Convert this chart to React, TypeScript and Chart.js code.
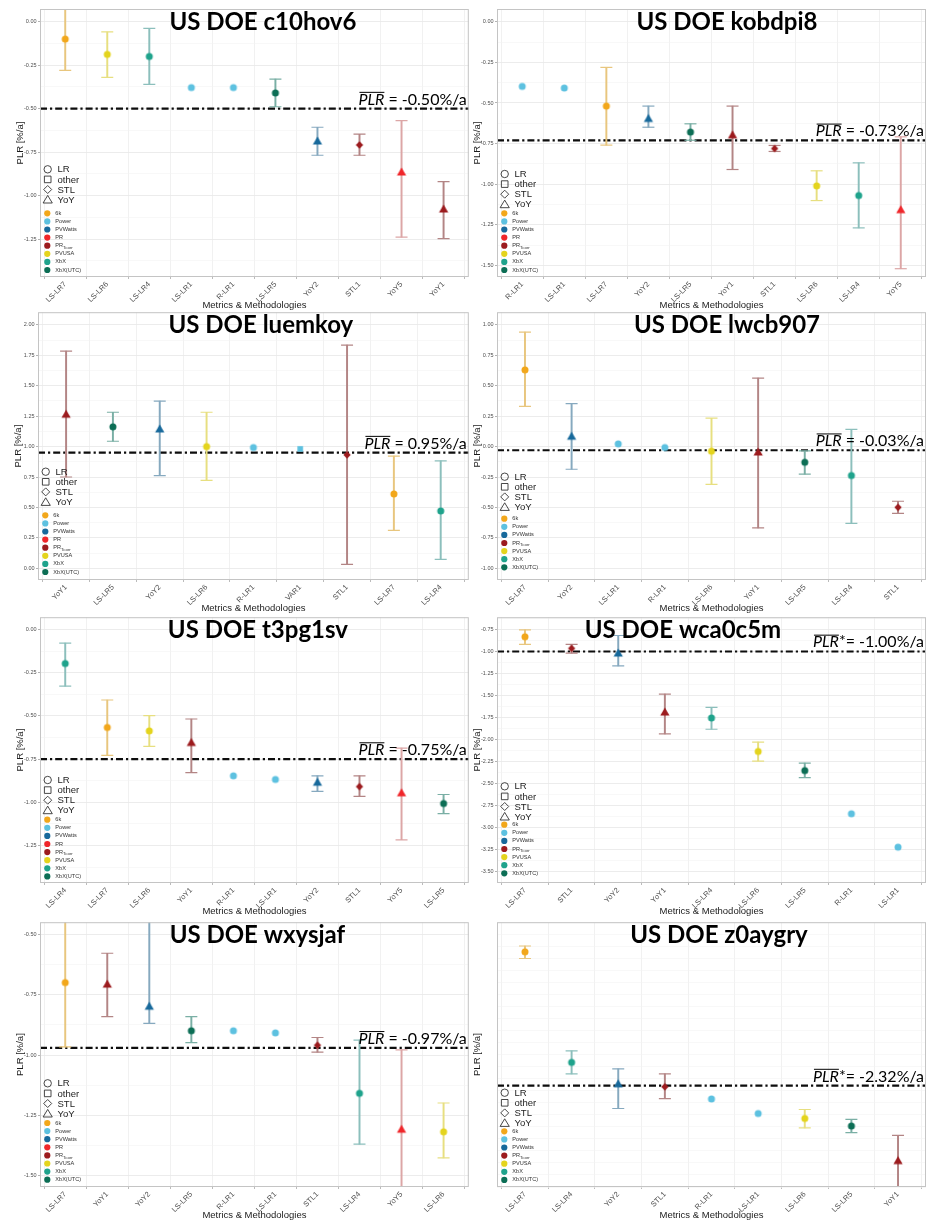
import React, { useEffect, useRef } from "react";
import { Chart, registerables } from "chart.js";

Chart.register(...registerables);
Chart.defaults.font.family = "'Liberation Sans', Arial, sans-serif";

// ---------------- data ----------------
const c10hov6Labels = ["LS-LR7", "LS-LR6", "LS-LR4", "LS-LR1", "R-LR1", "LS-LR5", "YoY2", "STL1", "YoY5", "YoY1"];
const c10hov6Values = [-0.10, -0.188, -0.20, -0.379, -0.379, -0.41, -0.686, -0.709, -0.864, -1.077];
const c10hov6Low = [-0.28, -0.32, -0.36, null, null, -0.489, -0.768, -0.768, -1.239, -1.247];
const c10hov6High = [0.08, -0.059, -0.038, null, null, -0.33, -0.607, -0.647, -0.569, -0.92];
const c10hov6Mean = -0.5;
const c10hov6Range = [-1.468, 0.073];

const kobdpi8Labels = ["R-LR1", "LS-LR1", "LS-LR7", "YoY2", "LS-LR5", "YoY1", "STL1", "LS-LR6", "LS-LR4", "YoY5"];
const kobdpi8Values = [-0.398, -0.408, -0.519, -0.595, -0.679, -0.696, -0.78, -1.01, -1.069, -1.156];
const kobdpi8Low = [null, null, -0.759, -0.649, -0.729, -0.909, -0.798, -1.10, -1.268, -1.519];
const kobdpi8High = [null, null, -0.281, -0.519, -0.628, -0.519, -0.761, -0.917, -0.868, -0.708];
const kobdpi8Mean = -0.73;
const kobdpi8Range = [-1.57, 0.078];

const luemkoyLabels = ["YoY1", "LS-LR5", "YoY2", "LS-LR6", "R-LR1", "VAR1", "STL1", "LS-LR7", "LS-LR4"];
const luemkoyValues = [1.266, 1.162, 1.145, 1.0, 0.992, 0.981, 0.932, 0.611, 0.471];
const luemkoyLow = [0.75, 1.044, 0.762, 0.723, null, null, 0.033, 0.312, 0.074];
const luemkoyHigh = [1.784, 1.282, 1.373, 1.282, null, null, 1.833, 0.921, 0.882];
const luemkoyMean = 0.95;
const luemkoyRange = [-0.096, 2.104];

const lwcb907Labels = ["LS-LR7", "YoY2", "LS-LR1", "R-LR1", "LS-LR6", "YoY1", "LS-LR5", "LS-LR4", "STL1"];
const lwcb907Values = [0.63, 0.085, 0.022, -0.008, -0.038, -0.044, -0.129, -0.238, -0.499];
const lwcb907Low = [0.331, -0.186, null, null, -0.31, -0.668, -0.227, -0.63, -0.548];
const lwcb907High = [0.94, 0.353, null, null, 0.233, 0.562, -0.036, 0.142, -0.449];
const lwcb907Mean = -0.03;
const lwcb907Range = [-1.096, 1.104];

const t3pg1svLabels = ["LS-LR4", "LS-LR7", "LS-LR6", "YoY1", "R-LR1", "LS-LR1", "YoY2", "STL1", "YoY5", "LS-LR5"];
const t3pg1svValues = [-0.197, -0.567, -0.587, -0.654, -0.847, -0.868, -0.884, -0.909, -0.945, -1.007];
const t3pg1svLow = [-0.328, -0.729, -0.677, -0.828, null, null, -0.937, -0.966, -1.217, -1.066];
const t3pg1svHigh = [-0.079, -0.408, -0.498, -0.518, null, null, -0.847, -0.847, -0.686, -0.955];
const t3pg1svMean = -0.75;
const t3pg1svRange = [-1.467, 0.071];

const wca0c5mLabels = ["LS-LR7", "STL1", "YoY2", "YoY1", "LS-LR4", "LS-LR6", "LS-LR5", "R-LR1", "LS-LR1"];
const wca0c5mValues = [-0.833, -0.965, -1.018, -1.689, -1.757, -2.138, -2.356, -2.847, -3.227];
const wca0c5mLow = [-0.92, -1.018, -1.165, -1.938, -1.885, -2.247, -2.436, null, null];
const wca0c5mHigh = [-0.754, -0.92, -0.818, -1.485, -1.636, -2.032, -2.27, null, null];
const wca0c5mMean = -1.0;
const wca0c5mRange = [-3.635, -0.61];

const wxysjafLabels = ["LS-LR7", "YoY1", "YoY2", "LS-LR5", "R-LR1", "LS-LR1", "STL1", "LS-LR4", "YoY5", "LS-LR6"];
const wxysjafValues = [-0.699, -0.705, -0.797, -0.899, -0.899, -0.908, -0.959, -1.159, -1.308, -1.319];
const wxysjafLow = [-0.966, -0.84, -0.868, -0.948, null, null, -0.988, -1.37, -1.65, -1.427];
const wxysjafHigh = [-0.432, -0.577, -0.40, -0.84, null, null, -0.927, -0.938, -0.978, -1.199];
const wxysjafMean = -0.97;
const wxysjafRange = [-1.548, -0.448];

const z0aygryLabels = ["LS-LR7", "LS-LR4", "YoY2", "STL1", "R-LR1", "LS-LR1", "LS-LR6", "LS-LR5", "YoY1"];
const z0aygryValues = [-0.931, -2.079, -2.301, -2.332, -2.459, -2.61, -2.661, -2.74, -3.099];
const z0aygryLow = [-1.0, -2.199, -2.558, -2.455, null, null, -2.76, -2.808, -3.40];
const z0aygryHigh = [-0.87, -1.959, -2.147, -2.199, null, null, -2.568, -2.671, -2.836];
const z0aygryMean = -2.32;
const z0aygryRange = [-3.373, -0.623];

const legendFull = ["6k", "Power", "PVWatts", "PR", "PR_Tcorr", "PVUSA", "XbX", "XbX(UTC)"];
const legendNoPR = ["6k", "Power", "PVWatts", "PR_Tcorr", "PVUSA", "XbX", "XbX(UTC)"];
const shapeLegend = ["LR", "other", "STL", "YoY"];

// method (colour group) of each methodology label
const METHOD_OF: Record<string, string> = {
  "LS-LR7": "6k", "LS-LR6": "PVUSA", "LS-LR4": "XbX", "LS-LR5": "XbX(UTC)",
  "LS-LR1": "Power", "R-LR1": "Power", "VAR1": "Power",
  "YoY1": "PR_Tcorr", "YoY2": "PVWatts", "YoY5": "PR", "STL1": "PR_Tcorr",
};

// ---------------- styles ----------------
const COLORS: Record<string, string> = {
  "6k": "#F2A71B", Power: "#5DC1E0", PVWatts: "#17699B", PR: "#F0262A",
  PR_Tcorr: "#9C1B1E", PVUSA: "#E4D41D", XbX: "#1FA38C", "XbX(UTC)": "#0C6E55",
};
const ERR_COLORS: Record<string, string> = {
  "6k": "#E8C67E", Power: "#A5D8E8", PVWatts: "#86A9BF", PR: "#DCA6A6",
  PR_Tcorr: "#B38585", PVUSA: "#E7DF80", XbX: "#8CBFBC", "XbX(UTC)": "#7AAFA5",
};

function shapeOf(label: string): string {
  if (label.startsWith("YoY")) return "YoY";
  if (label.startsWith("STL")) return "STL";
  if (label.startsWith("VAR")) return "other";
  return "LR";
}

const spriteCache: Record<string, HTMLCanvasElement> = {};
function sprite(shape: string, color: string): HTMLCanvasElement {
  const key = shape + color;
  if (spriteCache[key]) return spriteCache[key];
  const c = document.createElement("canvas");
  const s = 14;
  c.width = s;
  c.height = s;
  const g = c.getContext("2d")!;
  const m = s / 2;
  g.fillStyle = color;
  g.beginPath();
  if (shape === "LR") g.arc(m, m, 3.5, 0, Math.PI * 2);
  else if (shape === "YoY") {
    g.moveTo(m, m - 4.4);
    g.lineTo(m + 4.6, m + 3.4);
    g.lineTo(m - 4.6, m + 3.4);
    g.closePath();
  } else if (shape === "STL") {
    g.moveTo(m, m - 3.7);
    g.lineTo(m + 3.7, m);
    g.lineTo(m, m + 3.7);
    g.lineTo(m - 3.7, m);
    g.closePath();
  } else g.rect(m - 2.8, m - 2.8, 5.6, 5.6);
  g.fill();
  spriteCache[key] = c;
  return c;
}

type Box = { x0: number; y0: number; w: number; h: number; L: number; T: number; R: number; B: number };
type PanelSpec = {
  name: string;
  labels: string[];
  values: number[];
  low: (number | null)[];
  high: (number | null)[];
  mean: number;
  range: number[];
  star: boolean;
  legend: string[];
  box: Box;
  titleShift: number;
  shapeTop: number; // distance of first shape-legend row above plot bottom
  colorTop: number; // distance of first colour-legend row above plot bottom
};

const PANELS: PanelSpec[] = [
  { name: "c10hov6", labels: c10hov6Labels, values: c10hov6Values, low: c10hov6Low, high: c10hov6High, mean: c10hov6Mean, range: c10hov6Range, star: false, legend: legendFull,
    box: { x0: 0, y0: 0, w: 476, h: 312, L: 40, T: 9, R: 469, B: 277 }, titleShift: 8.5, shapeTop: 107.7, colorTop: 63.7 },
  { name: "kobdpi8", labels: kobdpi8Labels, values: kobdpi8Values, low: kobdpi8Low, high: kobdpi8High, mean: kobdpi8Mean, range: kobdpi8Range, star: false, legend: legendFull,
    box: { x0: 470, y0: 0, w: 469, h: 312, L: 497, T: 9, R: 926, B: 277 }, titleShift: 15.5, shapeTop: 103, colorTop: 63.7 },
  { name: "luemkoy", labels: luemkoyLabels, values: luemkoyValues, low: luemkoyLow, high: luemkoyHigh, mean: luemkoyMean, range: luemkoyRange, star: false, legend: legendFull,
    box: { x0: 0, y0: 305, w: 476, h: 312, L: 38, T: 312, R: 469, B: 580 }, titleShift: 7.5, shapeTop: 108.3, colorTop: 64.7 },
  { name: "lwcb907", labels: lwcb907Labels, values: lwcb907Values, low: lwcb907Low, high: lwcb907High, mean: lwcb907Mean, range: lwcb907Range, star: false, legend: legendNoPR,
    box: { x0: 470, y0: 305, w: 469, h: 312, L: 497, T: 312, R: 926, B: 580 }, titleShift: 15.5, shapeTop: 103.3, colorTop: 61.3 },
  { name: "t3pg1sv", labels: t3pg1svLabels, values: t3pg1svValues, low: t3pg1svLow, high: t3pg1svHigh, mean: t3pg1svMean, range: t3pg1svRange, star: false, legend: legendFull,
    box: { x0: 0, y0: 610, w: 476, h: 312, L: 40, T: 616, R: 469, B: 883 }, titleShift: 3.5, shapeTop: 103, colorTop: 63.3 },
  { name: "wca0c5m", labels: wca0c5mLabels, values: wca0c5mValues, low: wca0c5mLow, high: wca0c5mHigh, mean: wca0c5mMean, range: wca0c5mRange, star: true, legend: legendNoPR,
    box: { x0: 470, y0: 610, w: 469, h: 312, L: 497, T: 616, R: 926, B: 883 }, titleShift: -28.5, shapeTop: 96.7, colorTop: 58.3 },
  { name: "wxysjaf", labels: wxysjafLabels, values: wxysjafValues, low: wxysjafLow, high: wxysjafHigh, mean: wxysjafMean, range: wxysjafRange, star: false, legend: legendFull,
    box: { x0: 0, y0: 915, w: 476, h: 306, L: 40, T: 919, R: 470, B: 1187 }, titleShift: 3, shapeTop: 103.7, colorTop: 64 },
  { name: "z0aygry", labels: z0aygryLabels, values: z0aygryValues, low: z0aygryLow, high: z0aygryHigh, mean: z0aygryMean, range: z0aygryRange, star: true, legend: legendNoPR,
    box: { x0: 470, y0: 915, w: 469, h: 306, L: 497, T: 919, R: 926, B: 1187 }, titleShift: 7.5, shapeTop: 94.3, colorTop: 55.7 },
];

const isMajor = (v: number) => Math.abs(v / 0.25 - Math.round(v / 0.25)) < 1e-6;

function drawShapeOutline(ctx: CanvasRenderingContext2D, shape: string, x: number, y: number) {
  ctx.beginPath();
  if (shape === "LR") ctx.arc(x, y, 3.7, 0, Math.PI * 2);
  else if (shape === "other") ctx.rect(x - 3.3, y - 3.3, 6.6, 6.6);
  else if (shape === "STL") {
    ctx.moveTo(x, y - 4);
    ctx.lineTo(x + 4, y);
    ctx.lineTo(x, y + 4);
    ctx.lineTo(x - 4, y);
    ctx.closePath();
  } else {
    ctx.moveTo(x, y - 4.2);
    ctx.lineTo(x + 4.6, y + 3.4);
    ctx.lineTo(x - 4.6, y + 3.4);
    ctx.closePath();
  }
  ctx.stroke();
}

const decoPlugin = {
  id: "deco",
  beforeDatasetsDraw(chart: any, _args: any, opts: any) {
    const { ctx, chartArea: a } = chart;
    const y = chart.scales.y;
    const ym = y.getPixelForValue(opts.spec.mean);
    ctx.save();
    ctx.beginPath();
    ctx.setLineDash([7, 3, 2.2, 3]);
    ctx.lineWidth = 2.1;
    ctx.strokeStyle = "#0d0d0d";
    ctx.moveTo(a.left, ym);
    ctx.lineTo(a.right, ym);
    ctx.stroke();
    ctx.restore();
  },
  afterDraw(chart: any, _args: any, opts: any) {
    const spec: PanelSpec = opts.spec;
    const { ctx, chartArea: a } = chart;
    const y = chart.scales.y;
    ctx.save();
    // panel border
    ctx.strokeStyle = "#C4C4C4";
    ctx.lineWidth = 1;
    ctx.strokeRect(a.left + 0.5, a.top + 0.5, a.right - a.left - 1, a.bottom - a.top - 1);

    // axis titles
    ctx.fillStyle = "#1a1a1a";
    ctx.font = "9.5px 'Liberation Sans', Arial, sans-serif";
    ctx.textAlign = "center";
    ctx.textBaseline = "middle";
    ctx.fillText("Metrics & Methodologies", (a.left + a.right) / 2, a.bottom + 28);
    ctx.save();
    ctx.translate(a.left - 20, (a.top + a.bottom) / 2);
    ctx.rotate(-Math.PI / 2);
    ctx.fillText("PLR [%/a]", 0, 0);
    ctx.restore();

    // title
    ctx.fillStyle = "#000";
    ctx.font = "bold 24px Lato, 'Open Sans', sans-serif";
    ctx.textAlign = "center";
    ctx.textBaseline = "alphabetic";
    ctx.fillText("US DOE " + spec.name, (a.left + a.right) / 2 + spec.titleShift, a.top + 21);

    // mean annotation
    const ym = y.getPixelForValue(spec.mean);
    const base = ym - 4;
    const fReg = "16px Lato, 'Open Sans', sans-serif";
    const fIt = "italic 16px Lato, 'Open Sans', sans-serif";
    const rest = (spec.star ? "= " : " = ") + spec.mean.toFixed(2) + "%/a";
    ctx.font = fReg;
    const wRest = ctx.measureText(rest).width;
    const wStar = spec.star ? ctx.measureText("*").width : 0;
    ctx.font = fIt;
    const wP = ctx.measureText("PLR").width;
    let x = a.right - 2 - wRest - wStar - wP;
    ctx.textAlign = "left";
    ctx.fillStyle = "#000";
    ctx.fillText("PLR", x, base);
    ctx.beginPath();
    ctx.lineWidth = 1;
    ctx.strokeStyle = "#000";
    ctx.moveTo(x + 1, base - 12.3);
    ctx.lineTo(x + wP, base - 12.3);
    ctx.stroke();
    x += wP;
    ctx.font = fReg;
    if (spec.star) {
      ctx.fillText("*", x, base - 1);
      x += wStar;
    }
    ctx.fillText(rest, x, base);

    // colour legend
    const step = 8.1;
    const firstColorY = a.bottom - spec.colorTop;
    ctx.textBaseline = "middle";
    spec.legend.forEach((m, i) => {
      const cy = firstColorY + i * step;
      ctx.fillStyle = COLORS[m];
      ctx.beginPath();
      ctx.arc(a.left + 7.3, cy, 3.1, 0, Math.PI * 2);
      ctx.fill();
      ctx.fillStyle = "#333";
      ctx.font = "5.6px 'Liberation Sans', Arial, sans-serif";
      const tx = a.left + 15.3;
      if (m === "PR_Tcorr") {
        ctx.fillText("PR", tx, cy);
        const w = ctx.measureText("PR").width;
        ctx.font = "4.4px 'Liberation Sans', Arial, sans-serif";
        ctx.fillText("Tcorr", tx + w, cy + 2);
      } else {
        ctx.fillText(m, tx, cy);
      }
    });
    // shape legend
    const firstShapeY = a.bottom - spec.shapeTop;
    ctx.strokeStyle = "#333";
    ctx.lineWidth = 0.9;
    shapeLegend.forEach((s, i) => {
      const cy = firstShapeY + i * 10.1;
      drawShapeOutline(ctx, s, a.left + 7.7, cy);
      ctx.fillStyle = "#222";
      ctx.font = "9.5px 'Liberation Sans', Arial, sans-serif";
      ctx.fillText(s, a.left + 17.5, cy + 0.5);
    });
    ctx.restore();
  },
};

function Panel({ spec }: { spec: PanelSpec }) {
  const ref = useRef<HTMLCanvasElement>(null);
  useEffect(() => {
    const b = spec.box;
    const n = spec.labels.length;
    const methods = spec.labels.map((l) => METHOD_OF[l]);
    const shapes = spec.labels.map(shapeOf);
    const errCol = methods.map((m) => ERR_COLORS[m]);
    const pts = (arr: (number | null)[]) => arr.map((v, i) => ({ x: i, y: v }));
    const chart = new Chart(ref.current!, {
      type: "bar",
      data: {
        datasets: [
          {
            type: "line",
            label: "PLR",
            data: pts(spec.values),
            showLine: false,
            pointStyle: (c: any) => sprite(shapes[c.dataIndex], COLORS[methods[c.dataIndex]]),
            pointRadius: 5,
            order: 1,
          } as any,
          {
            type: "line",
            label: "upper",
            data: pts(spec.high),
            showLine: false,
            pointStyle: "line",
            pointRadius: 6,
            pointBorderWidth: 1.2,
            pointBorderColor: (c: any) => errCol[c.dataIndex],
            clip: 0,
            order: 2,
          } as any,
          {
            type: "line",
            label: "lower",
            data: pts(spec.low),
            showLine: false,
            pointStyle: "line",
            pointRadius: 6,
            pointBorderWidth: 1.2,
            pointBorderColor: (c: any) => errCol[c.dataIndex],
            clip: 0,
            order: 2,
          } as any,
          {
            type: "bar",
            label: "interval",
            data: spec.low.map((l, i) => ({
              x: i,
              y: l == null || spec.high[i] == null ? null : [l, spec.high[i]],
            })),
            backgroundColor: (c: any) => errCol[c.dataIndex],
            borderWidth: 0,
            barThickness: 1.3,
            clip: 0,
            order: 3,
          } as any,
        ],
      },
      options: {
        animation: false,
        responsive: false,
        devicePixelRatio: 1,
        layout: { padding: { top: b.T - b.y0, right: b.x0 + b.w - b.R, left: 0, bottom: 0 } },
        plugins: {
          legend: { display: false },
          tooltip: { enabled: false },
          deco: { spec },
        } as any,
        scales: {
          x: {
            type: "linear",
            min: -0.6,
            max: n - 1 + 0.6,
            offset: false,
            grid: { color: "#EEEEEE", lineWidth: 0.8, tickLength: 2, tickColor: "#AAAAAA" },
            border: { display: false },
            ticks: {
              stepSize: 1,
              autoSkip: false,
              includeBounds: false,
              minRotation: 45,
              maxRotation: 45,
              padding: 1,
              color: "#4D4D4D",
              font: { size: 7.5 },
              callback: (v: any) => spec.labels[Math.round(Number(v))] ?? "",
            },
            afterFit: (s: any) => {
              s.height = b.y0 + b.h - b.B;
            },
          },
          y: {
            type: "linear",
            min: spec.range[0],
            max: spec.range[1],
            border: { display: false },
            grid: {
              color: (c: any) => (isMajor(c.tick.value) ? "#EAEAEA" : "#F4F4F4"),
              lineWidth: (c: any) => (isMajor(c.tick.value) ? 0.9 : 0.6),
              tickLength: 2,
              tickColor: (c: any) => (isMajor(c.tick.value) ? "#AAAAAA" : "rgba(0,0,0,0)"),
            },
            ticks: {
              stepSize: 0.125,
              autoSkip: false,
              includeBounds: false,
              padding: 1.5,
              color: "#4D4D4D",
              font: { size: 5.5 },
              callback: (v: any) => (isMajor(Number(v)) ? Number(v).toFixed(2) : ""),
            },
            afterFit: (s: any) => {
              s.width = b.L - b.x0;
            },
          },
        },
      } as any,
      plugins: [decoPlugin as any],
    });
    return () => chart.destroy();
  }, [spec]);
  const b = spec.box;
  return (
    <canvas
      ref={ref}
      width={b.w}
      height={b.h}
      style={{ position: "absolute", left: b.x0, top: b.y0, width: b.w, height: b.h }}
    />
  );
}

export default function App() {
  return (
    <div
      style={{
        position: "absolute",
        left: 0,
        top: 0,
        width: 939,
        height: 1221,
        overflow: "hidden",
        background: "#ffffff",
      }}
    >
      {PANELS.map((p) => (
        <Panel key={p.name} spec={p} />
      ))}
    </div>
  );
}
